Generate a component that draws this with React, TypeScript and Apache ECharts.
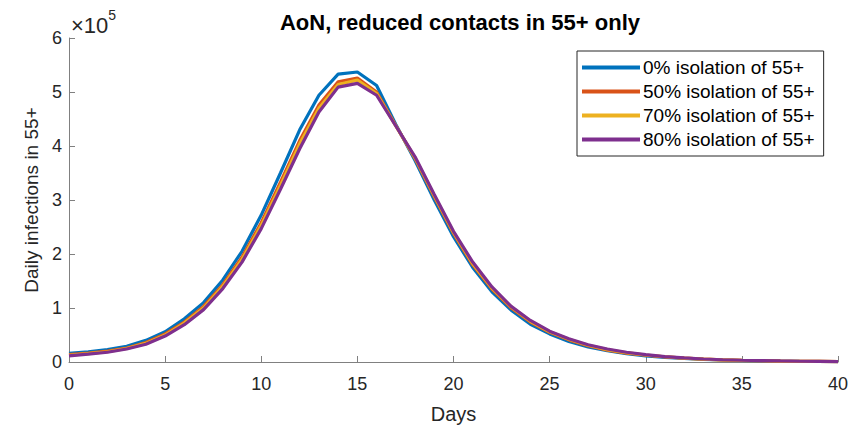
import React, { useEffect, useRef } from "react";
import * as echarts from "echarts";

// Days 0..40, daily infections in 55+ (units of 1e5)
const days: number[] = Array.from({ length: 41 }, (_, i) => i);

const iso0: number[] = [
  0.16, 0.19, 0.23, 0.29, 0.4, 0.56, 0.8, 1.1, 1.52, 2.05,
  2.72, 3.5, 4.3, 4.94, 5.33, 5.37, 5.12, 4.4, 3.73, 3.0,
  2.32, 1.75, 1.3, 0.96, 0.7, 0.52, 0.38, 0.28, 0.21, 0.155,
  0.115, 0.085, 0.065, 0.05, 0.037, 0.028, 0.021, 0.016, 0.012, 0.009, 0.007,
];
const iso50: number[] = [
  0.135, 0.165, 0.2, 0.26, 0.36, 0.52, 0.74, 1.03, 1.43, 1.94,
  2.58, 3.33, 4.1, 4.76, 5.19, 5.26, 5.0, 4.38, 3.77, 3.06,
  2.38, 1.8, 1.35, 1.0, 0.74, 0.55, 0.41, 0.3, 0.22, 0.165,
  0.125, 0.095, 0.07, 0.052, 0.04, 0.03, 0.023, 0.017, 0.013, 0.01, 0.0075,
];
const iso70: number[] = [
  0.125, 0.155, 0.19, 0.25, 0.345, 0.5, 0.72, 1.0, 1.4, 1.9,
  2.53, 3.27, 4.04, 4.7, 5.14, 5.22, 4.97, 4.37, 3.78, 3.08,
  2.4, 1.82, 1.37, 1.02, 0.755, 0.56, 0.42, 0.31, 0.23, 0.172,
  0.13, 0.097, 0.072, 0.054, 0.041, 0.031, 0.024, 0.018, 0.0135, 0.0105, 0.0078,
];
const iso80: number[] = [
  0.115, 0.145, 0.18, 0.24, 0.33, 0.48, 0.69, 0.97, 1.36, 1.85,
  2.47, 3.2, 3.95, 4.63, 5.09, 5.16, 4.94, 4.37, 3.8, 3.1,
  2.42, 1.85, 1.39, 1.03, 0.77, 0.57, 0.43, 0.32, 0.24, 0.18,
  0.135, 0.1, 0.075, 0.056, 0.042, 0.032, 0.025, 0.019, 0.014, 0.011, 0.008,
];

const seriesNames: string[] = [
  "0% isolation of 55+",
  "50% isolation of 55+",
  "70% isolation of 55+",
  "80% isolation of 55+",
];
const seriesData: number[][] = [iso0, iso50, iso70, iso80];
const colors: string[] = ["#0072BD", "#D95319", "#EDB120", "#7E2F8E"];

const xTicks = { min: 0, max: 40, interval: 5 };
const yTicks = { min: 0, max: 6, interval: 1 };

const FONT = "'Liberation Sans', Arial, Helvetica, sans-serif";

export default function App() {
  const ref = useRef<HTMLDivElement>(null);
  useEffect(() => {
    if (!ref.current) return;
    const chart = echarts.init(ref.current, undefined, { renderer: "svg" });
    const axisColor = "#262626";
    chart.setOption({
      animation: false,
      backgroundColor: "#ffffff",
      textStyle: { fontFamily: FONT },
      title: {
        text: "AoN, reduced contacts in 55+ only",
        left: 455,
        textAlign: "center",
        top: 6,
        textStyle: { fontFamily: FONT, fontSize: 22, fontWeight: "bold", color: "#000" },
      },
      grid: { left: 69, right: 25, top: 38, bottom: 69 },
      legend: {
        orient: "vertical",
        left: 577,
        top: 51,
        padding: [7, 9, 7, 5],
        itemGap: 5,
        itemWidth: 58,
        itemHeight: 4,
        icon: "rect",
        borderColor: "#262626",
        borderWidth: 1,
        backgroundColor: "#fff",
        textStyle: { fontFamily: FONT, fontSize: 19, lineHeight: 19, color: "#000", padding: [0, 0, 0, -2] },
        data: seriesNames,
      },
      xAxis: {
        type: "value",
        min: xTicks.min,
        max: xTicks.max,
        interval: xTicks.interval,
        name: "Days",
        nameLocation: "middle",
        nameGap: 42,
        nameTextStyle: { fontFamily: FONT, fontSize: 20, color: axisColor },
        axisLine: { onZero: false, lineStyle: { color: "#808080", width: 1 } },
        axisTick: { inside: true, length: 6, lineStyle: { color: "#808080" } },
        axisLabel: { fontFamily: FONT, fontSize: 18, color: axisColor, margin: 13 },
        splitLine: { show: false },
      },
      yAxis: {
        type: "value",
        min: yTicks.min,
        max: yTicks.max,
        interval: yTicks.interval,
        name: "Daily infections in 55+",
        nameLocation: "middle",
        nameGap: 27,
        nameTextStyle: { fontFamily: FONT, fontSize: 19, color: axisColor },
        axisLine: { show: true, lineStyle: { color: "#808080", width: 1 } },
        axisTick: { show: true, inside: true, length: 6, lineStyle: { color: "#808080" } },
        axisLabel: { fontFamily: FONT, fontSize: 18, color: axisColor, margin: 7 },
        splitLine: { show: false },
      },
      graphic: [
        {
          type: "text",
          left: 71,
          top: 8,
          style: {
            text: "{a|×10}{b|5}",
            rich: {
              a: { fontFamily: FONT, fontSize: 22, fill: axisColor, verticalAlign: "bottom", padding: [6, 0, 0, 0] },
              b: { fontFamily: FONT, fontSize: 14, fill: axisColor, verticalAlign: "top" },
            },
          },
        },
      ],
      series: seriesNames.map((name, i) => ({
        name,
        type: "line",
        data: days.map((d, j) => [d, seriesData[i][j]]),
        showSymbol: false,
        symbol: "none",
        color: colors[i],
        lineStyle: { color: colors[i], width: 3.2 },
        z: 2 + i,
      })),
    });
    return () => chart.dispose();
  }, []);
  return (
    <div
      ref={ref}
      style={{ position: "absolute", left: 0, top: 0, width: 863, height: 431 }}
    />
  );
}
